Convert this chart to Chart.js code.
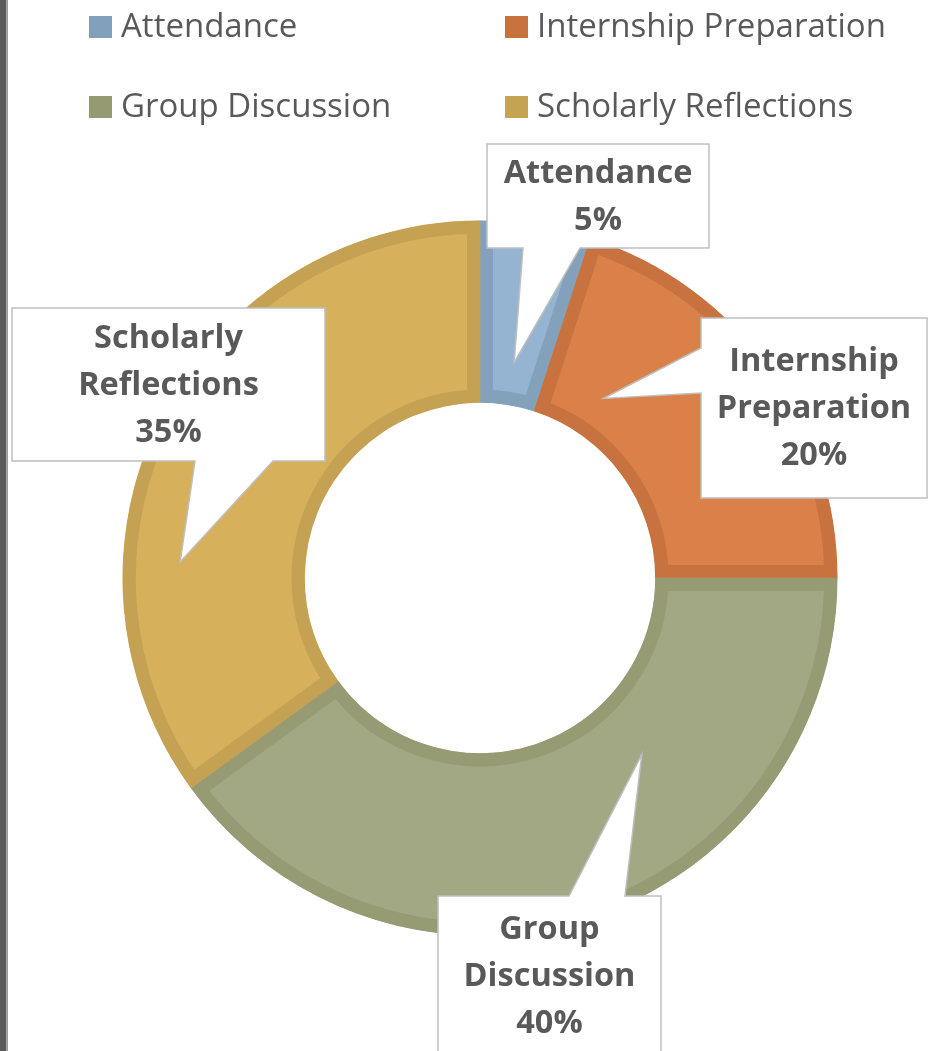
<!DOCTYPE html>
<html>
<head>
<meta charset="utf-8">
<script src="https://cdn.jsdelivr.net/npm/chart.js@4"></script>
<style>
  html, body { margin: 0; padding: 0; background: #ffffff; overflow: hidden; }
  #wrap { position: relative; width: 928px; height: 1051px; }
  canvas { display: block; }
</style>
</head>
<body>
<div id="wrap"><canvas id="c" width="928" height="1051"></canvas></div>
<script>
// ---- data ----
const categories = ['Attendance', 'Internship Preparation', 'Group Discussion', 'Scholarly Reflections'];
const values = [5, 20, 40, 35];

// ---- styles ----
const fillColors   = ['#95B4D2', '#DA8049', '#A2A884', '#D7B05C'];
const borderColors = ['#84A1BC', '#C8723F', '#969B74', '#C5A253'];
const legendColors = ['#82A0BB', '#C8733F', '#959A72', '#C4A352'];
const textColor = '#595959';
const FONT = '"Open Sans", "Noto Sans", sans-serif';

// callout layout (box rectangles in px, pointer side, tip placement within slice)
const calloutStyle = [
  { box: [487, 144, 709, 248], side: 'bottom', base: [523, 580], tipT: 0.5,  tipR: 0.61, textY: 197 },
  { box: [701, 318, 927, 498], side: 'left',   base: [348, 393], tipT: 0.23, tipR: 0.61, textY: 409 },
  { box: [438, 896, 661, 1080], side: 'top',   base: [569, 625], tipT: 0.33, tipR: 0.67, textY: 977 },
  { box: [12, 308, 325, 461],  side: 'bottom', base: [195, 273], tipT: 0.31, tipR: 0.84, textY: 386 }
];
// legend layout
const legendStyle = {
  cols: [89, 505], rows: [27, 107], box: 23, gap: 9, font: '400 33px ' + FONT
};

const total = values.reduce((a, b) => a + b, 0);

const decorPlugin = {
  id: 'decor',
  beforeDraw(chart) {
    const ctx = chart.ctx;
    ctx.save();
    ctx.fillStyle = '#ffffff';
    ctx.fillRect(0, 0, chart.width, chart.height);
    ctx.fillStyle = '#595959';
    ctx.fillRect(0, 0, 6.5, chart.height);
    ctx.fillStyle = '#9C9C9C';
    ctx.fillRect(6.5, 0, 1.5, chart.height);
    ctx.restore();
  },
  afterDatasetsDraw(chart) {
    const ctx = chart.ctx;
    const meta = chart.getDatasetMeta(0);
    ctx.save();
    // legend
    ctx.font = legendStyle.font;
    ctx.textBaseline = 'middle';
    ctx.textAlign = 'left';
    categories.forEach((name, i) => {
      const x = legendStyle.cols[i % 2];
      const y = legendStyle.rows[Math.floor(i / 2)];
      ctx.fillStyle = legendColors[i];
      ctx.fillRect(x, y - 11, legendStyle.box, 22);
      ctx.fillStyle = textColor;
      ctx.fillText(name, x + legendStyle.box + legendStyle.gap, y + 1);
    });
    // callouts
    meta.data.forEach((arc, i) => {
      const st = calloutStyle[i];
      const p = arc.getProps(['x', 'y', 'startAngle', 'endAngle', 'outerRadius'], true);
      const a = p.startAngle + st.tipT * (p.endAngle - p.startAngle);
      const tx = p.x + Math.cos(a) * p.outerRadius * st.tipR;
      const ty = p.y + Math.sin(a) * p.outerRadius * st.tipR;
      const [x0, y0, x1, y1] = st.box;
      ctx.beginPath();
      if (st.side === 'bottom') {
        ctx.moveTo(x0, y0); ctx.lineTo(x1, y0); ctx.lineTo(x1, y1);
        ctx.lineTo(st.base[1], y1); ctx.lineTo(tx, ty); ctx.lineTo(st.base[0], y1);
        ctx.lineTo(x0, y1);
      } else if (st.side === 'left') {
        ctx.moveTo(x0, y0); ctx.lineTo(x1, y0); ctx.lineTo(x1, y1); ctx.lineTo(x0, y1);
        ctx.lineTo(x0, st.base[1]); ctx.lineTo(tx, ty); ctx.lineTo(x0, st.base[0]);
      } else {
        ctx.moveTo(x0, y0); ctx.lineTo(st.base[0], y0); ctx.lineTo(tx, ty);
        ctx.lineTo(st.base[1], y0); ctx.lineTo(x1, y0); ctx.lineTo(x1, y1); ctx.lineTo(x0, y1);
      }
      ctx.closePath();
      ctx.fillStyle = '#ffffff';
      ctx.fill();
      ctx.lineWidth = 1.5;
      ctx.strokeStyle = '#BFBFBF';
      ctx.stroke();
      const lines = categories[i].split(' ');
      lines.push(Math.round(values[i] / total * 100) + '%');
      ctx.fillStyle = textColor;
      ctx.font = '700 32.5px ' + FONT;
      ctx.textAlign = 'center';
      ctx.textBaseline = 'middle';
      const lh = 47;
      const cx = (x0 + Math.min(x1, 927)) / 2;
      const startY = st.textY - (lines.length - 1) * lh / 2;
      lines.forEach((ln, k) => ctx.fillText(ln, cx, startY + k * lh));
    });
    ctx.restore();
  }
};

new Chart(document.getElementById('c'), {
  type: 'doughnut',
  data: {
    labels: categories,
    datasets: [{
      data: values,
      backgroundColor: fillColors,
      borderColor: borderColors,
      borderWidth: 13,
      borderAlign: 'inner',
      hoverOffset: 0
    }]
  },
  options: {
    responsive: false,
    animation: false,
    radius: 357.5,
    cutout: '49%',
    layout: { padding: { left: 32, right: 0, top: 105, bottom: 0 } },
    plugins: { legend: { display: false }, tooltip: { enabled: false } },
    events: []
  },
  plugins: [decorPlugin]
});
</script>
</body>
</html>
